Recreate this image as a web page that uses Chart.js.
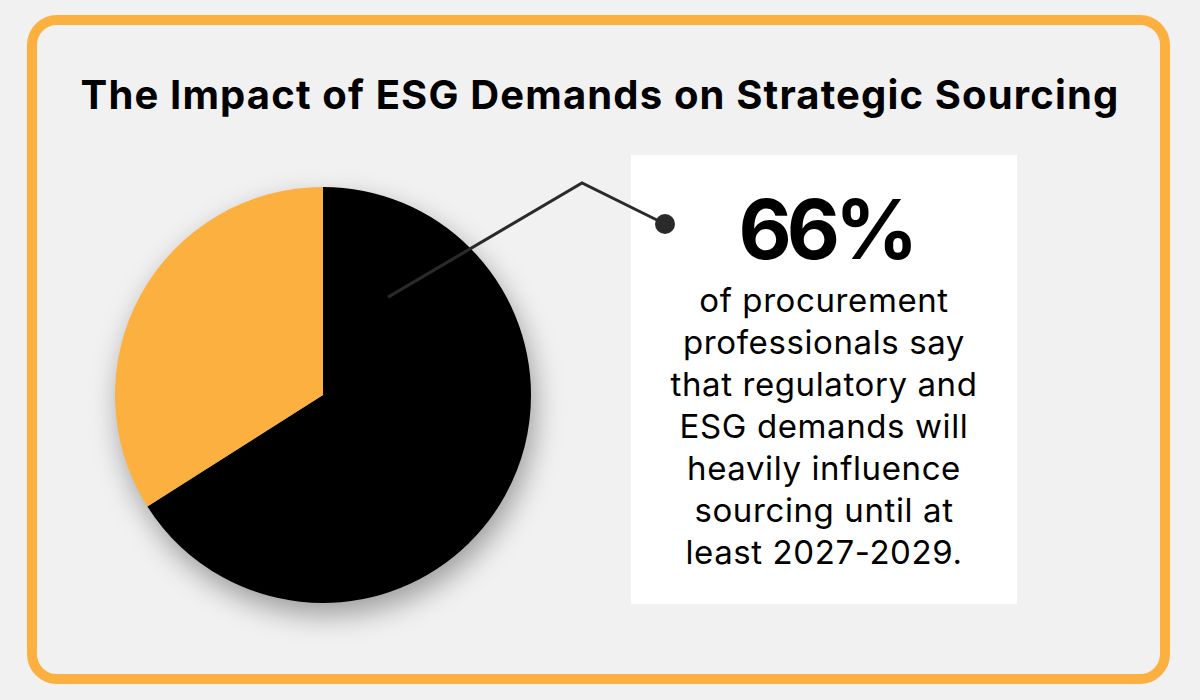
<!DOCTYPE html>
<html>
<head>
<meta charset="utf-8">
<script src="https://cdn.jsdelivr.net/npm/chart.js"></script>
<style>
    html, body { margin: 0; padding: 0; }
    body { width: 1200px; height: 700px; background: #f1f1f1; position: relative; overflow: hidden; font-family: Inter, "Open Sans", sans-serif; }
    .frame { position: absolute; left: 27px; top: 15px; width: 1123px; height: 649px; border: 10px solid #fbb040; border-radius: 30px; }
    .title { position: absolute; left: 0; width: 1200px; top: 70px; text-align: center; font-weight: 700; font-size: 40px; letter-spacing: 1.15px; line-height: 50px; color: #000; }
    .box { position: absolute; left: 631px; top: 155px; width: 386px; height: 449px; background: #fff; }
    .big { position: absolute; left: 633px; width: 386px; top: 180px; text-align: center; font-weight: 700; font-size: 82px; letter-spacing: -5px; line-height: 100px; color: #000; }
    .txt { position: absolute; left: 631px; width: 386px; top: 279px; text-align: center; font-size: 33px; letter-spacing: 0.6px; line-height: 42px; color: #000; }
    #stats { position: absolute; left: 0; top: 0; }
</style>
</head>
<body>
<div class="frame"></div>
<div class="title">The Impact of ESG Demands on Strategic Sourcing</div>
<div class="box"></div>
<div class="big">66%</div>
<div class="txt">of procurement<br>professionals say<br>that regulatory and<br>ESG demands will<br>heavily influence<br>sourcing until at<br>least 2027-2029.</div>
<canvas id="stats" width="1200" height="700"></canvas>
<script>
    const labels = ['Heavily influenced by ESG', 'Other'];
    const values = [66, 34];
    const colors = ['#000000', '#fbb040'];

    // soft drop shadow under the pie
    const pieShadow = {
        id: 'pieShadow',
        beforeDatasetsDraw(chart) {
            const c = chart.ctx;
            c.save();
            c.shadowColor = 'rgba(0,0,0,0.35)';
            c.shadowBlur = 28;
            c.shadowOffsetX = 4;
            c.shadowOffsetY = 12;
        },
        afterDatasetsDraw(chart) {
            chart.ctx.restore();
            // callout line from the black slice to the box
            const arc = chart.getDatasetMeta(0).data[0];
            const c = chart.ctx;
            const r = arc.outerRadius;
            const sx = arc.x + r * 0.565 * Math.cos(-56.4 * Math.PI / 180);
            const sy = arc.y + r * 0.565 * Math.sin(-56.4 * Math.PI / 180);
            c.save();
            c.strokeStyle = '#2a2a2a';
            c.lineWidth = 3;
            c.beginPath();
            c.moveTo(sx, sy);
            c.lineTo(582, 183);
            c.lineTo(665, 224);
            c.stroke();
            c.fillStyle = '#2a2a2a';
            c.beginPath();
            c.arc(665, 224, 10, 0, Math.PI * 2);
            c.fill();
            c.restore();
        }
    };

    new Chart(document.getElementById('stats'), {
        type: 'pie',
        data: {
            labels: labels,
            datasets: [{ data: values, backgroundColor: colors, borderWidth: 0, hoverOffset: 0 }]
        },
        options: {
            responsive: false,
            animation: false,
            layout: { padding: { left: 115, top: 187, right: 669, bottom: 97 } },
            plugins: { legend: { display: false }, tooltip: { enabled: false } },
            events: []
        },
        plugins: [pieShadow]
    });
</script>
</body>
</html>
